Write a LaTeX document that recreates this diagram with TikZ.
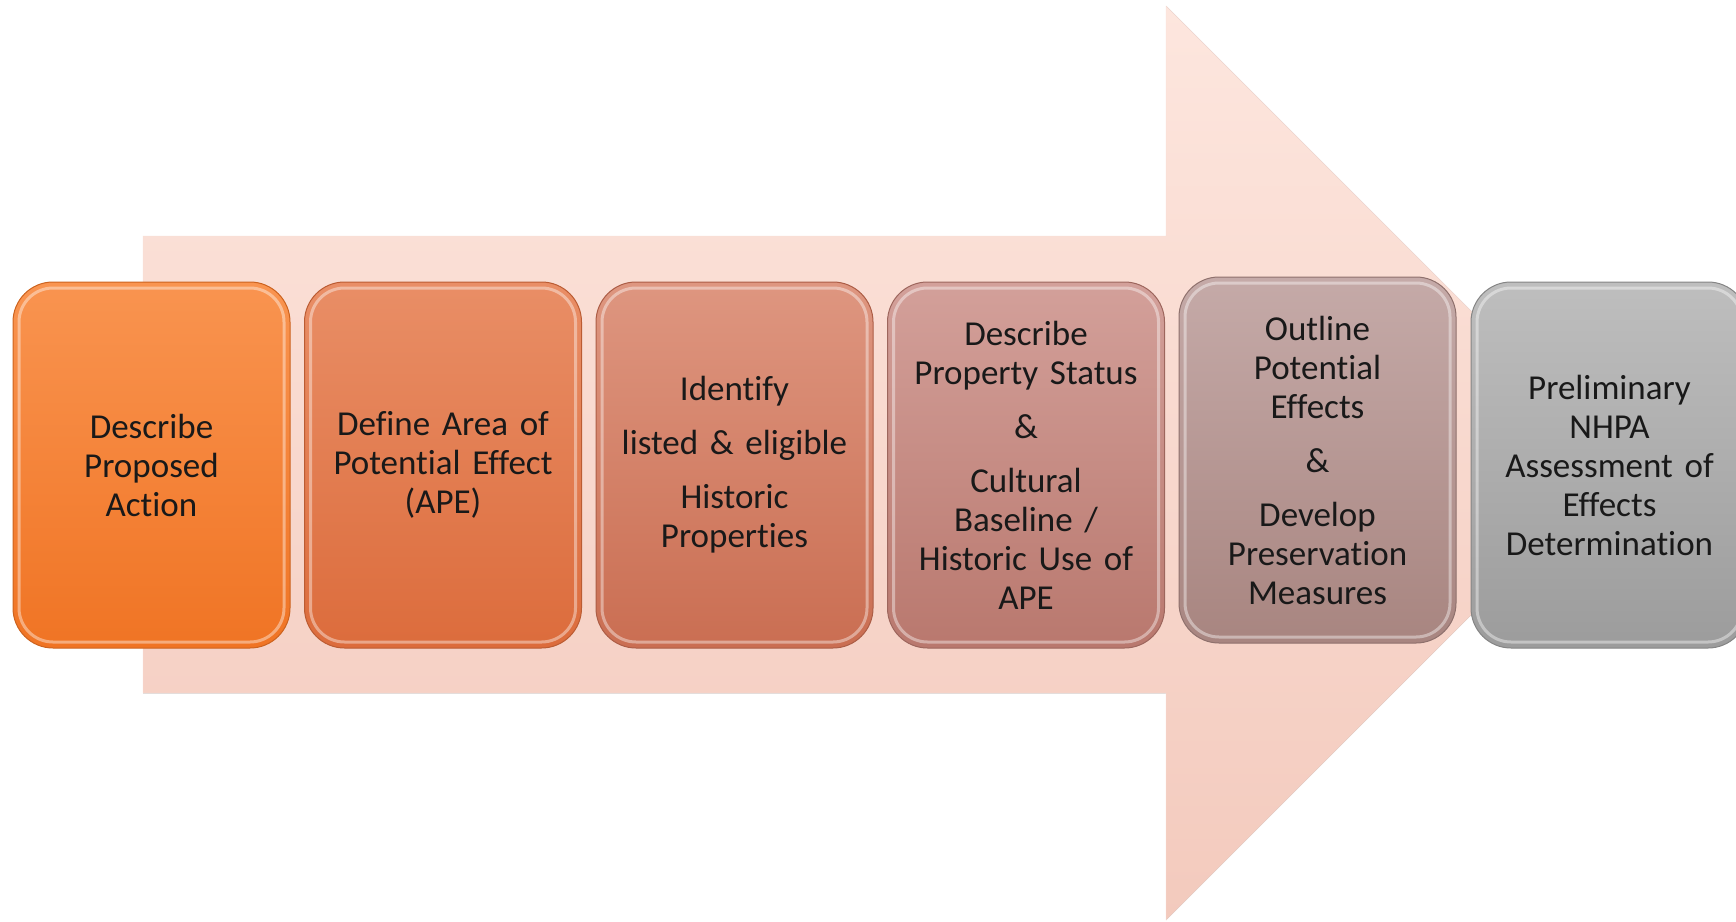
\documentclass[tikz,border=0pt]{standalone}
\usepackage{fontspec}
\setmainfont{Carlito}[Ligatures=NoCommon,WordSpace=0.85]
\usepackage{xcolor}
\usetikzlibrary{positioning}

\definecolor{arrowtop}{HTML}{FDE6DE}
\definecolor{arrowbot}{HTML}{F3CABD}
\definecolor{descrtop}{HTML}{F99450}
\definecolor{descrbot}{HTML}{F07424}
\definecolor{areatop}{HTML}{E98E66}
\definecolor{areabot}{HTML}{DC6C3C}
\definecolor{identtop}{HTML}{DE9680}
\definecolor{identbot}{HTML}{CA6E52}
\definecolor{statustop}{HTML}{D3A09A}
\definecolor{statusbot}{HTML}{B9786E}
\definecolor{outlinetop}{HTML}{C5AAA8}
\definecolor{outlinebot}{HTML}{A88580}
\definecolor{prelimtop}{HTML}{BEBEBE}
\definecolor{prelimbot}{HTML}{9C9C9C}

\begin{document}
\begin{tikzpicture}[x=1pt,y=-1pt]
        \tikzset{phase/.style={draw=#1bot!85!black,line width=1pt,
                rounded corners=40pt,minimum width=277pt,minimum height=366pt,
                inner sep=0pt,text width=262pt,align=center,text=black!90,
                font=\fontsize{35}{39}\selectfont,top color=#1top,bottom color=#1bot,
                path picture={\draw[white,opacity=.4,line width=3pt,rounded corners=34pt]
                    ([shift={(6pt,-6pt)}]path picture bounding box.north west) rectangle
                    ([shift={(-6pt,6pt)}]path picture bounding box.south east);}},
            node distance=13.5pt}
        \clip (0,0) rectangle (1736,921);
        % big arrow behind the steps
        \fill[top color=arrowtop,bottom color=arrowbot,draw=arrowbot!60!white]
            (143,236) -- (1166,236) -- (1166,6) -- (1623,463)
            -- (1166,920) -- (1166,693) -- (143,693) -- cycle;
        % steps
        \node[phase=descr] (descr) at (151.5,465) {Describe\\Proposed\\Action};
        \node[phase=area, right=of descr] (area)
            {Define Area of\\Potential Effect\\(APE)};
        \node[phase=ident, right=of area] (ident)
            {Identify\\[15pt]listed \& eligible\\[15pt]Historic\\Properties};
        \node[phase=status, right=of ident] (status)
            {Describe\\Property Status\\[15pt]\&\\[15pt]Cultural\\Baseline /\\Historic Use of\\APE};
        \node[phase=outline, right=of status, yshift=5pt] (outline)
            {Outline\\Potential\\Effects\\[15pt]\&\\[15pt]Develop\\Preservation\\Measures};
        \node[phase=prelim, right=14pt of outline, yshift=-5pt] (prelim)
            {Preliminary\\NHPA\\Assessment of\\Effects\\Determination};
\end{tikzpicture}
\end{document}
